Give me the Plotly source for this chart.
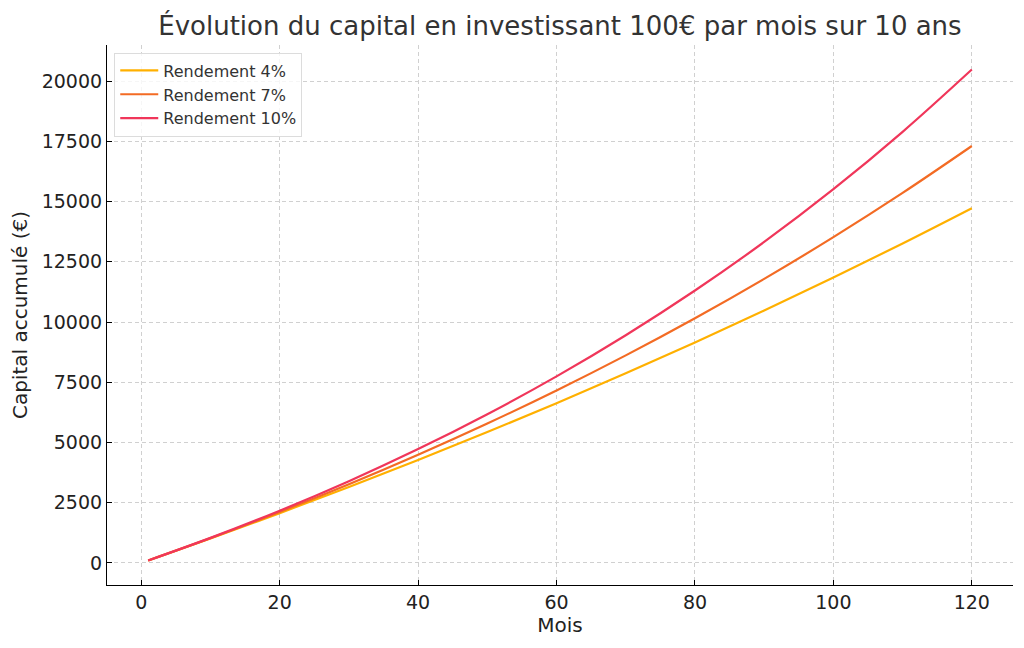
import plotly.graph_objects as go

# months and accumulated capital
mois = [1, 10, 20, 30, 40, 50, 60, 70, 80, 90, 100, 110, 120]
rend_4 = [100, 1015, 2065, 3150, 4271, 5431, 6630, 7869, 9151, 10476, 11845, 13261, 14725]
rend_7 = [100, 1027, 2115, 3268, 4491, 5786, 7159, 8615, 10157, 11792, 13525, 15361, 17308]
rend_10 = [100, 1038, 2167, 3392, 4724, 6172, 7744, 9452, 11308, 13325, 15516, 17898, 20484]

series = [
    ("Rendement 4%", rend_4, "#FFB000"),
    ("Rendement 7%", rend_7, "#F36B24"),
    ("Rendement 10%", rend_10, "#F0365A"),
]

fig = go.Figure()
for name, vals, col in series:
    fig.add_trace(go.Scatter(x=mois, y=vals, name=name, mode="lines",
                             line=dict(color=col, width=2.2, shape="spline")))

axis_common = dict(
    showline=True, linecolor="#000", linewidth=1.2, mirror=False,
    ticks="inside", ticklen=5, tickcolor="#000",
    showgrid=True, gridcolor="#d0d0d0", griddash="4px,3px", gridwidth=1,
    zeroline=False, tickfont=dict(size=19, color="#222"), automargin=False,
)

fig.update_layout(
    width=1024, height=648,
    # page body adds ~8px offset; margins compensate
    margin=dict(l=99, r=19, t=37, b=71),
    paper_bgcolor="white", plot_bgcolor="white",
    font=dict(family="DejaVu Sans", color="#333"),
    title=dict(text="Évolution du capital en investissant 100€ par mois sur 10 ans",
               x=0.539, xanchor="center", y=0.973, yanchor="middle",
               font=dict(size=26, color="#333")),
    legend=dict(x=0.008, y=0.986, xanchor="left", yanchor="top",
                itemwidth=38, tracegroupgap=0,
                bgcolor="rgba(255,255,255,0.8)", bordercolor="#dcdcdc", borderwidth=1,
                font=dict(size=16, color="#333")),
    xaxis=dict(range=[-4.95, 125.95], tickvals=[0, 20, 40, 60, 80, 100, 120],
               tickformat="d",
               title=dict(text="Mois", font=dict(size=20, color="#222"), standoff=6),
               **axis_common),
    yaxis=dict(range=[-919, 21503], tickvals=[0, 2500, 5000, 7500, 10000, 12500, 15000, 17500, 20000],
               tickformat="d",
               title=dict(text="Capital accumulé (€)", font=dict(size=20, color="#222"), standoff=8),
               **axis_common),
)

fig.write_html("out.html")
